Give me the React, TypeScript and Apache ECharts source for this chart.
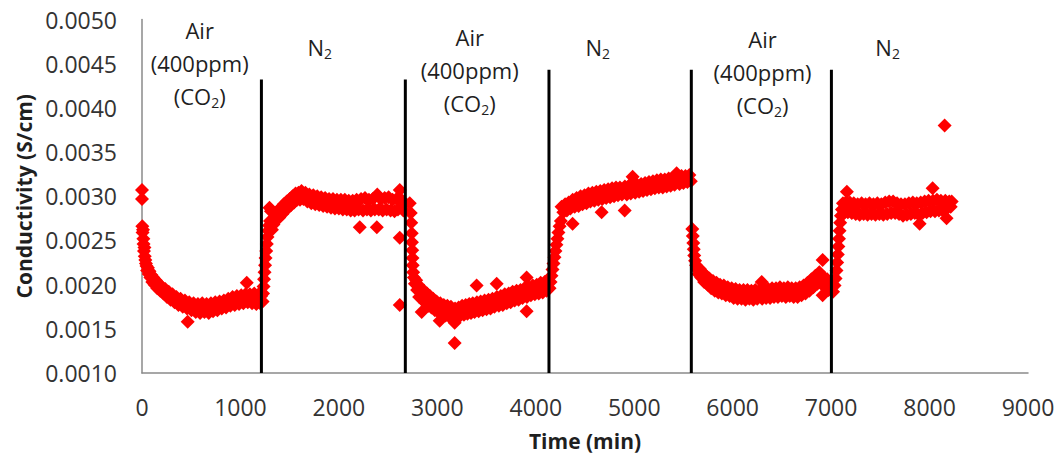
import React, { useEffect, useRef } from "react";
import * as echarts from "echarts";

// ---- Axis settings ----
const xMin = 0;
const xMax = 9000;
const xInterval = 1000;
const yMin = 0.001;
const yMax = 0.005;
const yInterval = 0.0005;

// ---- Measured conductivity [time (min), conductivity (S/cm)] ----
const air1: number[][] = [
  [0, 0.00307], [0, 0.00297], [3, 0.00266], [6, 0.00259], [10, 0.00262], [14, 0.00252],
  [16, 0.00246], [20, 0.00238], [25, 0.00242], [28, 0.00232], [34, 0.00228], [40, 0.00224],
  [46, 0.00221], [52, 0.00216], [60, 0.00219], [68, 0.00212], [76, 0.00215], [85, 0.00208],
  [95, 0.00211], [105, 0.00203], [115, 0.00208], [128, 0.002], [140, 0.00205], [155, 0.00196],
  [170, 0.00201], [185, 0.00193], [200, 0.00198], [218, 0.0019], [236, 0.00195], [254, 0.00186],
  [272, 0.00192], [290, 0.00183], [310, 0.00189], [330, 0.0018], [350, 0.00186], [370, 0.00177],
  [392, 0.00184], [414, 0.00175], [436, 0.00182], [458, 0.00173], [464, 0.00158], [480, 0.0018],
  [502, 0.00171], [524, 0.00179], [546, 0.00169], [568, 0.00178], [590, 0.00168], [612, 0.00179],
  [634, 0.00169], [656, 0.00178], [678, 0.00168], [700, 0.00179], [722, 0.0017], [744, 0.0018],
  [766, 0.00171], [788, 0.00181], [810, 0.00173], [832, 0.00182], [854, 0.00174], [876, 0.00184],
  [898, 0.00176], [920, 0.00186], [942, 0.00177], [964, 0.00187], [986, 0.00178], [1008, 0.00188],
  [1030, 0.00179], [1052, 0.00189], [1064, 0.00202], [1074, 0.0018], [1096, 0.00189],
  [1118, 0.00179], [1140, 0.0019], [1162, 0.00178], [1184, 0.00189], [1200, 0.00179],
  [1210, 0.00187],
];

const n2First: number[][] = [
  [1225, 0.00181], [1230, 0.0019], [1235, 0.00198], [1240, 0.00206], [1245, 0.00214],
  [1250, 0.00222], [1255, 0.0023], [1262, 0.00238], [1268, 0.00246], [1275, 0.00254],
  [1282, 0.00261], [1290, 0.00267], [1300, 0.00272], [1295, 0.00287], [1310, 0.00283],
  [1320, 0.00262], [1335, 0.00268], [1350, 0.00274], [1365, 0.00278], [1380, 0.00284],
  [1395, 0.00276], [1410, 0.00287], [1425, 0.0028], [1440, 0.00291], [1455, 0.00284],
  [1470, 0.00294], [1485, 0.00287], [1500, 0.00297], [1515, 0.0029], [1530, 0.003],
  [1545, 0.00293], [1560, 0.00303], [1575, 0.00296], [1590, 0.00304], [1605, 0.00296],
  [1620, 0.00306], [1640, 0.00297], [1660, 0.00304], [1680, 0.00294], [1700, 0.00302],
  [1720, 0.00292], [1740, 0.00301], [1760, 0.00291], [1780, 0.003], [1800, 0.0029],
  [1820, 0.00299], [1840, 0.00289], [1860, 0.00298], [1880, 0.00288], [1900, 0.00297],
  [1920, 0.00287], [1940, 0.00297], [1960, 0.00286], [1980, 0.00296], [2000, 0.00286],
  [2020, 0.00296], [2040, 0.00285], [2060, 0.00296], [2080, 0.00285], [2100, 0.00295],
  [2120, 0.00284], [2140, 0.00295], [2160, 0.00284], [2180, 0.00296], [2200, 0.00285],
  [2212, 0.00265], [2225, 0.00297], [2245, 0.00284], [2265, 0.00298], [2285, 0.00285],
  [2305, 0.00296], [2325, 0.00284], [2345, 0.00297], [2365, 0.00285], [2385, 0.00265],
  [2390, 0.00302], [2405, 0.00285], [2425, 0.00297], [2445, 0.00284], [2465, 0.00298],
  [2485, 0.00285], [2505, 0.00299], [2525, 0.00284], [2545, 0.00296], [2565, 0.00283],
  [2585, 0.00297], [2600, 0.00285], [2618, 0.00307], [2618, 0.00253], [2618, 0.00177],
  [2635, 0.00296], [2655, 0.00284], [2670, 0.00292],
];

const air2: number[][] = [
  [2720, 0.00292], [2730, 0.00281], [2735, 0.0027], [2740, 0.00258], [2742, 0.00248],
  [2745, 0.00239], [2748, 0.0023], [2750, 0.00222], [2755, 0.00214], [2762, 0.00208],
  [2772, 0.00201], [2785, 0.00205], [2795, 0.00194], [2805, 0.002], [2815, 0.00186],
  [2828, 0.00196], [2841, 0.00169], [2850, 0.00183], [2865, 0.00193], [2880, 0.00179],
  [2895, 0.0019], [2910, 0.00176], [2925, 0.00187], [2940, 0.00174], [2958, 0.00184],
  [2975, 0.00171], [2992, 0.00181], [3010, 0.00169], [3024, 0.00159], [3030, 0.00179],
  [3048, 0.00167], [3066, 0.00177], [3084, 0.00165], [3102, 0.00176], [3120, 0.00164],
  [3138, 0.00175], [3156, 0.00163], [3176, 0.00157], [3176, 0.00134], [3180, 0.00173],
  [3198, 0.00164], [3216, 0.00174], [3234, 0.00165], [3252, 0.00176], [3270, 0.00166],
  [3288, 0.00177], [3306, 0.00167], [3324, 0.00178], [3342, 0.00168], [3360, 0.00179],
  [3378, 0.00169], [3399, 0.00199], [3402, 0.0018], [3420, 0.0017], [3440, 0.00181],
  [3460, 0.00171], [3480, 0.00182], [3500, 0.00172], [3520, 0.00183], [3540, 0.00173],
  [3560, 0.00184], [3580, 0.00175], [3603, 0.00201], [3605, 0.00186], [3625, 0.00176],
  [3645, 0.00187], [3665, 0.00177], [3685, 0.00189], [3705, 0.00179], [3725, 0.0019],
  [3745, 0.0018], [3765, 0.00192], [3785, 0.00182], [3805, 0.00193], [3825, 0.00183],
  [3845, 0.00194], [3865, 0.00185], [3885, 0.00196], [3907, 0.00208], [3907, 0.0017],
  [3910, 0.00186], [3930, 0.00197], [3950, 0.00188], [3970, 0.00199], [3990, 0.00189],
  [4010, 0.002], [4030, 0.0019], [4050, 0.00202], [4070, 0.00191], [4090, 0.00203],
  [4110, 0.00193], [4125, 0.00205],
];

const n2Second: number[][] = [
  [4140, 0.00196], [4150, 0.00203], [4160, 0.0021], [4170, 0.00217], [4180, 0.00224],
  [4190, 0.00231], [4200, 0.00238], [4210, 0.00245], [4220, 0.00252], [4230, 0.00259],
  [4242, 0.00266], [4255, 0.00272], [4262, 0.00288], [4280, 0.00282], [4298, 0.00291],
  [4316, 0.00284], [4334, 0.00293], [4352, 0.00286], [4374, 0.00269], [4375, 0.00296],
  [4395, 0.00288], [4415, 0.00298], [4435, 0.00289], [4455, 0.003], [4475, 0.00291],
  [4495, 0.00301], [4515, 0.00292], [4535, 0.00303], [4555, 0.00294], [4575, 0.00304],
  [4595, 0.00295], [4615, 0.00305], [4635, 0.00296], [4655, 0.00306], [4669, 0.00282],
  [4675, 0.00297], [4695, 0.00307], [4715, 0.00298], [4735, 0.00308], [4755, 0.00299],
  [4775, 0.00309], [4795, 0.003], [4815, 0.0031], [4835, 0.00301], [4855, 0.0031],
  [4875, 0.00302], [4903, 0.00284], [4905, 0.00311], [4925, 0.00302], [4945, 0.00312],
  [4965, 0.00303], [4984, 0.00322], [4990, 0.00312], [5010, 0.00304], [5030, 0.00313],
  [5050, 0.00305], [5070, 0.00314], [5090, 0.00306], [5110, 0.00315], [5130, 0.00307],
  [5150, 0.00316], [5170, 0.00308], [5190, 0.00317], [5210, 0.00309], [5230, 0.00318],
  [5250, 0.0031], [5270, 0.00319], [5290, 0.0031], [5310, 0.00319], [5330, 0.00311],
  [5350, 0.0032], [5370, 0.00312], [5390, 0.00321], [5410, 0.00313], [5431, 0.00326],
  [5440, 0.00322], [5460, 0.00314], [5480, 0.00323], [5500, 0.00315], [5520, 0.00323],
  [5540, 0.00316], [5560, 0.00324], [5575, 0.00317],
];

const air3: number[][] = [
  [5590, 0.00263], [5595, 0.00255], [5600, 0.00247], [5605, 0.0024], [5610, 0.00233],
  [5618, 0.00227], [5628, 0.00222], [5640, 0.00217], [5652, 0.00212], [5665, 0.00218],
  [5680, 0.00208], [5695, 0.00214], [5710, 0.00203], [5728, 0.0021], [5746, 0.002],
  [5764, 0.00207], [5782, 0.00196], [5800, 0.00204], [5818, 0.00193], [5836, 0.00202],
  [5854, 0.00191], [5872, 0.002], [5890, 0.0019], [5910, 0.00199], [5930, 0.00188],
  [5950, 0.00197], [5970, 0.00187], [5990, 0.00196], [6010, 0.00185], [6030, 0.00195],
  [6050, 0.00184], [6070, 0.00194], [6090, 0.00184], [6110, 0.00194], [6130, 0.00183],
  [6150, 0.00194], [6170, 0.00184], [6190, 0.00193], [6210, 0.00183], [6230, 0.00194],
  [6250, 0.00184], [6270, 0.00193], [6295, 0.00203], [6300, 0.00184], [6320, 0.00194],
  [6340, 0.00185], [6360, 0.00195], [6380, 0.00185], [6400, 0.00196], [6420, 0.00186],
  [6440, 0.00196], [6460, 0.00186], [6480, 0.00197], [6500, 0.00187], [6520, 0.00196],
  [6540, 0.00186], [6560, 0.00197], [6580, 0.00187], [6600, 0.00196], [6620, 0.00186],
  [6640, 0.00196], [6660, 0.00186], [6680, 0.00197], [6700, 0.00188], [6720, 0.00199],
  [6740, 0.0019], [6760, 0.00202], [6780, 0.00193], [6800, 0.00206], [6820, 0.00197],
  [6840, 0.0021], [6860, 0.00201], [6880, 0.00214], [6900, 0.00205], [6914, 0.00228],
  [6914, 0.00188], [6930, 0.00208], [6945, 0.00196], [6960, 0.00206], [6975, 0.00194],
  [6990, 0.00203],
];

const n2Third: number[][] = [
  [7020, 0.00192], [7035, 0.00199], [7045, 0.00207], [7055, 0.00216], [7062, 0.00225],
  [7068, 0.00234], [7074, 0.00243], [7080, 0.00252], [7086, 0.00261], [7092, 0.0027],
  [7100, 0.00278], [7110, 0.00285], [7120, 0.00292], [7135, 0.00281], [7150, 0.00293],
  [7160, 0.00305], [7170, 0.00282], [7190, 0.00293], [7210, 0.00281], [7230, 0.00292],
  [7250, 0.0028], [7270, 0.00291], [7290, 0.00279], [7310, 0.00292], [7330, 0.0028],
  [7350, 0.00291], [7370, 0.00279], [7390, 0.00292], [7410, 0.0028], [7430, 0.00291],
  [7450, 0.00279], [7470, 0.00292], [7490, 0.0028], [7510, 0.00291], [7530, 0.00279],
  [7550, 0.00293], [7570, 0.0028], [7590, 0.00294], [7610, 0.00281], [7630, 0.00294],
  [7650, 0.00281], [7670, 0.00292], [7690, 0.0028], [7710, 0.00291], [7730, 0.00278],
  [7750, 0.00291], [7770, 0.00279], [7790, 0.00292], [7810, 0.0028], [7830, 0.00293],
  [7850, 0.00281], [7870, 0.00292], [7890, 0.00279], [7899, 0.00269], [7910, 0.00293],
  [7930, 0.00281], [7950, 0.00294], [7970, 0.00282], [7990, 0.00295], [8010, 0.00283],
  [8031, 0.00309], [8035, 0.00295], [8055, 0.00283], [8075, 0.00296], [8095, 0.00284],
  [8115, 0.00295], [8135, 0.00284], [8153, 0.0038], [8160, 0.00295], [8173, 0.00275],
  [8185, 0.00287], [8200, 0.00294], [8215, 0.00288], [8225, 0.00294],
];

// ---- Gas switch boundaries (time, top of marker line) ----
const boundaryTimes = [1213, 2675, 4134, 5580, 7003];
const boundaryTops = [0.00432, 0.00432, 0.00443, 0.00443, 0.00443];

// ---- Phase annotations ----
const phaseLabelTimes = [586, 1805, 3329, 4629, 6304, 7574];
const phaseLabelValues = [0.004513, 0.004689, 0.004429, 0.004689, 0.004406, 0.004689];
const phaseLabelKinds = ["air", "n2", "air", "n2", "air", "n2"];

const FONT = "'Open Sans', 'Liberation Sans', sans-serif";
const TEXT_COLOR = "#1f1f1f";

export default function App() {
  const ref = useRef<HTMLDivElement>(null);

  useEffect(() => {
    if (!ref.current) return;
    const chart = echarts.init(ref.current, null, { renderer: "svg" });

    const allPoints = [...air1, ...n2First, ...air2, ...n2Second, ...air3, ...n2Third];

    const boundarySeries = boundaryTimes.map((t, i) => ({
      type: "line",
      data: [
        [t, yMin],
        [t, boundaryTops[i]],
      ],
      symbol: "none",
      lineStyle: { color: "#000000", width: 3 },
      z: 5,
      silent: true,
    }));

    chart.setOption({
      animation: false,
      grid: { left: 142, right: 33, top: 19.5, bottom: 83, containLabel: false },
      xAxis: {
        type: "value",
        min: xMin,
        max: xMax,
        interval: xInterval,
        name: "Time (min)",
        nameLocation: "middle",
        nameGap: 57,
        nameTextStyle: { fontFamily: FONT, fontWeight: "bold", fontSize: 21, color: TEXT_COLOR },
        axisLine: { show: true, lineStyle: { color: "#8a8a8a", width: 1.5 } },
        axisTick: { show: false },
        splitLine: { show: false },
        axisLabel: {
          fontFamily: FONT,
          fontSize: 23,
          color: "#333333",
          margin: 22,
          formatter: (v: number) => String(Math.round(v)),
        },
      },
      yAxis: {
        type: "value",
        min: yMin,
        max: yMax,
        interval: yInterval,
        name: "Conductivity (S/cm)",
        nameLocation: "middle",
        nameGap: 104,
        nameTextStyle: { fontFamily: FONT, fontWeight: "bold", fontSize: 21, color: TEXT_COLOR },
        axisLine: { show: true, lineStyle: { color: "#8a8a8a", width: 1.5 } },
        axisTick: { show: false },
        splitLine: { show: false },
        axisLabel: {
          fontFamily: FONT,
          fontSize: 23,
          color: "#333333",
          margin: 25,
          formatter: (v: number) => v.toFixed(4),
        },
      },
      series: [
        {
          type: "scatter",
          data: allPoints,
          symbol: "diamond",
          symbolSize: 14,
          itemStyle: { color: "#ff0000", opacity: 1 },
          z: 3,
          silent: true,
        },
        ...boundarySeries,
      ],
    } as any);

    const mainStyle = {
      fontSize: 22,
      lineHeight: 33,
      fontFamily: FONT,
      fill: TEXT_COLOR,
      color: TEXT_COLOR,
    };
    const subStyle = {
      fontSize: 14,
      lineHeight: 33,
      fontFamily: FONT,
      fill: TEXT_COLOR,
      color: TEXT_COLOR,
      verticalAlign: "middle",
      padding: [14, 0, 0, 0],
    };

    const graphics = phaseLabelTimes.map((t, i) => {
      const p = chart.convertToPixel({ gridIndex: 0 }, [t, phaseLabelValues[i]]) as number[];
      const text =
        phaseLabelKinds[i] === "air"
          ? "{m|Air}\n{m|(400ppm)}\n{m|(CO}{s|2}{m|)}"
          : "{m|N}{s|2}";
      return {
        type: "text",
        x: p[0],
        y: p[1],
        z: 10,
        silent: true,
        style: {
          text,
          fill: TEXT_COLOR,
          fontSize: 22,
          fontFamily: FONT,
          lineHeight: 33,
          align: "center",
          verticalAlign: "middle",
          rich: { m: mainStyle, s: subStyle },
        },
      };
    });

    chart.setOption({ graphic: graphics } as any);

    return () => chart.dispose();
  }, []);

  return (
    <div
      ref={ref}
      style={{ position: "absolute", left: 0, top: 0, width: 1061, height: 456, background: "#ffffff" }}
    />
  );
}
